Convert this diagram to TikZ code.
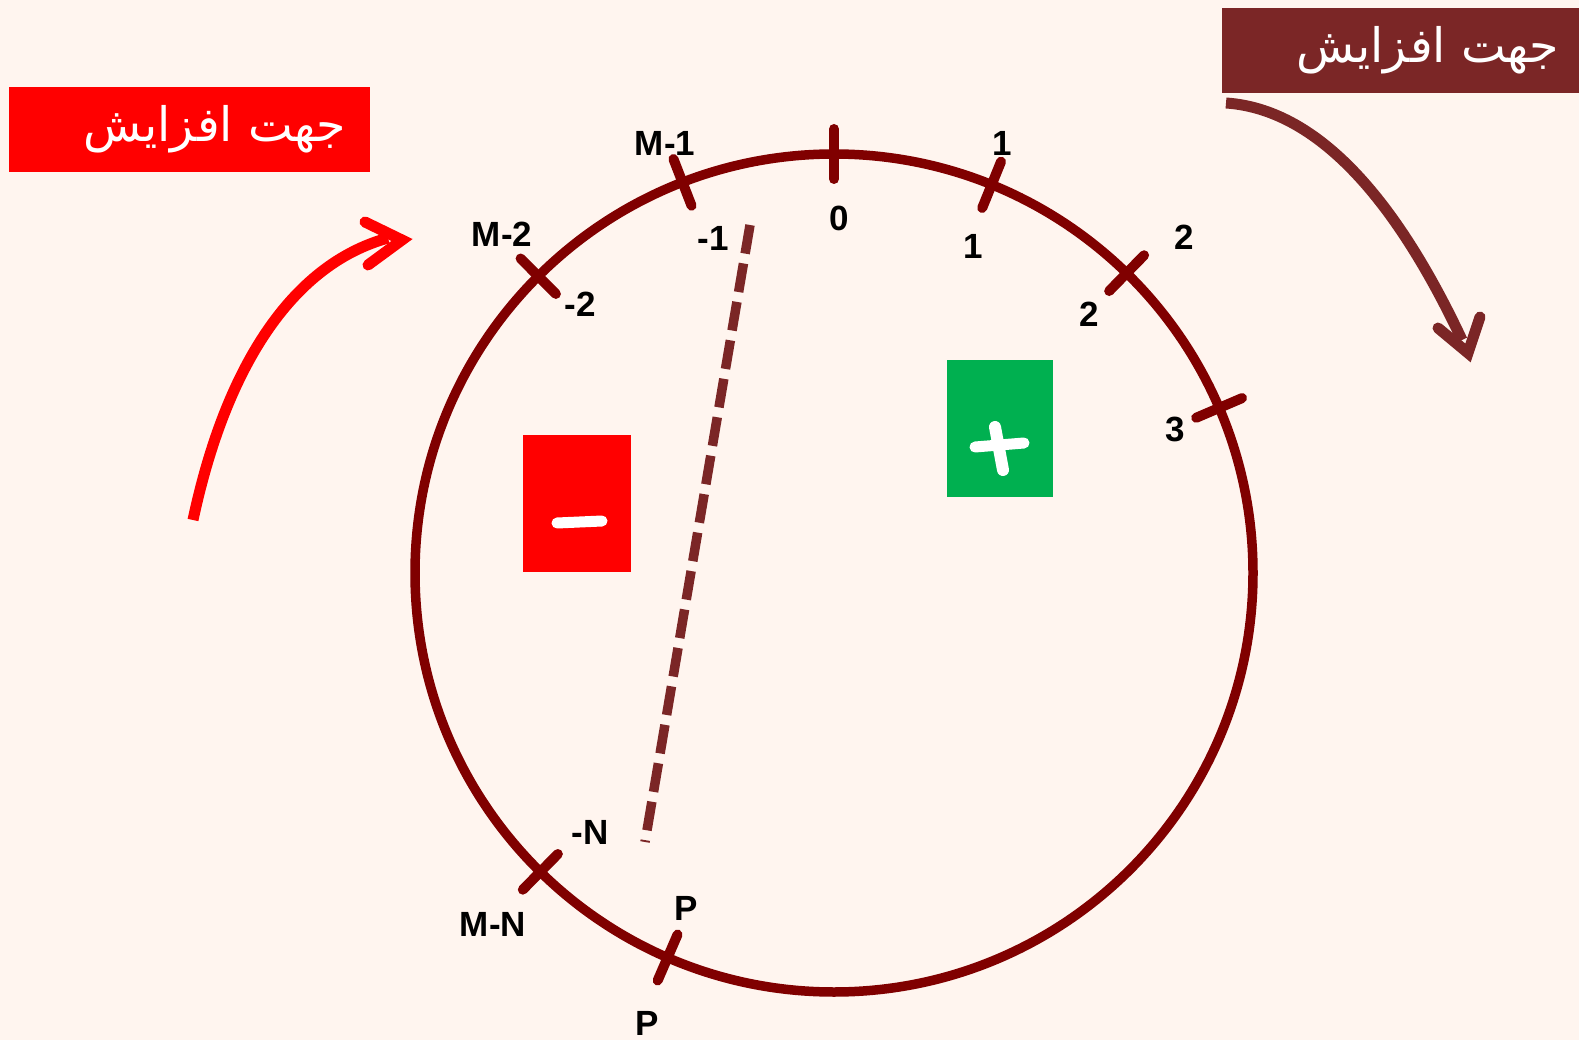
\documentclass[tikz,border=0pt]{standalone}
\usepackage{fontspec}
\usepackage{graphicx}
\setmainfont{Liberation Sans}
\newfontfamily\arabicfont[Script=Arabic]{DejaVu Sans}
\TeXXeTstate=1
\usetikzlibrary{calc}
\definecolor{bgc}{HTML}{FFF5EF}
\definecolor{maroonc}{HTML}{800000}
\definecolor{darkredc}{HTML}{7B2626}
\definecolor{greenc}{HTML}{00B050}
\definecolor{redc}{HTML}{FF0000}
\tikzset{
  ringline/.style={draw=maroonc,line width=9.5pt},
  tickmark/.style={draw=maroonc,line width=10pt,line cap=round},
  numlbl/.style={font=\fontsize{35}{40}\selectfont\bfseries,text=black,inner sep=0pt},
  arabiclbl/.style={text=white,inner sep=0pt},
  signline/.style={draw=white,line width=11pt,line cap=round},
  bigarrow/.style={line width=11pt},
}
\newcommand{\dirtext}{\resizebox{262pt}{!}{\arabicfont\beginR جهت افزایش\endR}}
\begin{document}
\begin{tikzpicture}[x=1pt,y=-1pt]
\fill[bgc] (0,0) rectangle (1579,1040);
\useasboundingbox (0,0) rectangle (1579,1040);

% boxes
\fill[redc] (9,87) rectangle (370,172);
\node[arabiclbl] (ltext) at (215,129) {\dirtext};
\fill[darkredc] (1222,8) rectangle (1579,93);
\node[arabiclbl] (rtext) at (1428,50) {\dirtext};

% circle
\coordinate (C) at (834,573);
\draw[ringline] (C) circle[radius=419pt];

% dashed line
\coordinate (dtop) at (750,225);
\coordinate (dbot) at (645,842);
\draw[draw=darkredc,line width=9.5pt,dash pattern=on 29pt off 10pt] (dtop) -- (dbot);

% ticks
\foreach \a in {-90,-67.9,-45.7,-23.2,-111.2,-134.9,134.5,113.4}{
  \draw[tickmark] ($(C)+(\a:394)$) -- ($(C)+(\a:444)$);
}

% labels
\node[numlbl] (m1) at (665,143) {M-1};
\node[numlbl] (n1) at (713,238) {-1};
\node[numlbl] (m2) at (502,234) {M-2};
\node[numlbl] (n2) at (580,304) {-2};
\node[numlbl] (z0) at (839,218) {0};
\node[numlbl] (o1) at (1002,143) {1};
\node[numlbl] (i1) at (973,246) {1};
\node[numlbl] (o2) at (1184,237) {2};
\node[numlbl] (i2) at (1089,314) {2};
\node[numlbl] (t3) at (1175,429) {3};
\node[numlbl] (nN) at (590,832) {-N};
\node[numlbl] (mN) at (493,924) {M-N};
\node[numlbl] (p1) at (686,908) {P};
\node[numlbl] (p2) at (647,1023) {P};

% sign boxes
\fill[redc] (523,435) rectangle (631,572);
\draw[signline] (557,523) -- (602,521);
\fill[greenc] (947,360) rectangle (1053,497);
\draw[signline] (975,447) -- (1024,443);
\draw[signline,line width=12pt] (995,427) -- (1003,470);

% red arrow
\coordinate (ra0) at (193,520);
\coordinate (ra1) at (388,238);
\coordinate (ratip) at (402,240);
\coordinate (raA) at (365,222);
\coordinate (raB) at (368,265);
\draw[redc,bigarrow] (ra0) .. controls (225,370) and (290,265) .. (ra1);
\draw[redc,bigarrow,line cap=round,line join=miter] (raA) -- (ratip) -- (raB);

% dark arrow
\coordinate (da0) at (1226,103);
\coordinate (da1) at (1462,340);
\coordinate (datip) at (1468,353);
\coordinate (daA) at (1438,328);
\coordinate (daB) at (1480,317);
\draw[darkredc,bigarrow] (da0) .. controls (1330,110) and (1408,225) .. (da1);
\draw[darkredc,bigarrow,line cap=round,line join=miter] (daA) -- (datip) -- (daB);
\end{tikzpicture}
\end{document}
